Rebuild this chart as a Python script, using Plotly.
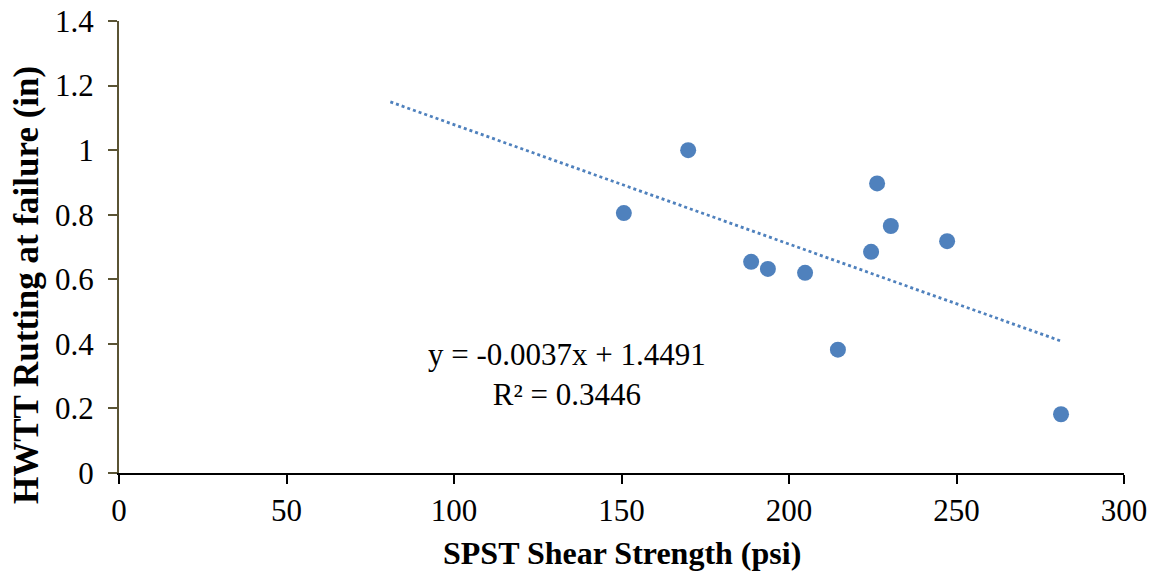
import numpy as np
import plotly.graph_objects as go

# Data
spst_shear_psi = [150.7, 169.9, 188.7, 193.7, 204.8, 214.6, 224.5, 226.3, 230.4, 247.2, 281.2]
hwtt_rut_in = [0.805, 1.000, 0.654, 0.632, 0.620, 0.382, 0.685, 0.897, 0.765, 0.718, 0.182]

trend_slope = -0.0037
trend_intercept = 1.4491
trend_r2 = 0.3446
trend_x_range = [81.0, 281.2]

x_ticks = [0, 50, 100, 150, 200, 250, 300]
y_ticks = [0, 0.2, 0.4, 0.6, 0.8, 1.0, 1.2, 1.4]
y_tick_labels = ["0", "0.2", "0.4", "0.6", "0.8", "1", "1.2", "1.4"]

x_title = "SPST Shear Strength (psi)"
y_title = "HWTT Rutting at failure (in)"

blue = "#4F81BD"
font_family = "Liberation Serif, Times New Roman, serif"

tx = np.linspace(trend_x_range[0], trend_x_range[1], 50)
ty = trend_slope * tx + trend_intercept

fig = go.Figure()
fig.add_trace(go.Scatter(
    x=tx, y=ty, mode="lines",
    line=dict(color=blue, width=2.8, dash="dot"),
    hoverinfo="skip", showlegend=False,
))
fig.add_trace(go.Scatter(
    x=spst_shear_psi, y=hwtt_rut_in, mode="markers",
    marker=dict(color=blue, size=16, line=dict(width=0)),
    showlegend=False,
))

fig.add_annotation(
    x=133.7, y=0.305, xref="x", yref="y",
    text=f"y = {trend_slope}x + {trend_intercept}<br>R² = {trend_r2}",
    showarrow=False, align="center",
    font=dict(family=font_family, size=31, color="black"),
)
fig.add_annotation(
    x=0.5, y=-0.177, xref="paper", yref="paper",
    text=f"<b>{x_title}</b>", showarrow=False,
    xanchor="center", yanchor="middle",
    font=dict(family=font_family, size=32, color="black"),
)
fig.add_annotation(
    x=-0.0915, y=0.416, xref="paper", yref="paper",
    text=f"<b>{y_title}</b>", showarrow=False, textangle=-90,
    xanchor="center", yanchor="middle",
    font=dict(family=font_family, size=35, color="black"),
)

fig.update_layout(
    width=1152, height=575,
    margin=dict(l=119, r=28, t=21, b=102),
    paper_bgcolor="white", plot_bgcolor="white",
    font=dict(family=font_family, color="black"),
    xaxis=dict(
        range=[0, 300], tickvals=x_ticks,
        showgrid=False, zeroline=False, automargin=False,
        showline=True, linecolor="black", linewidth=2,
        ticks="outside", ticklen=9, tickwidth=2, tickcolor="black",
        tickfont=dict(family=font_family, size=31, color="black"),
    ),
    yaxis=dict(
        range=[0, 1.4], tickvals=y_ticks, ticktext=y_tick_labels,
        showgrid=False, zeroline=False, automargin=False,
        showline=True, linecolor="#5A5434", linewidth=2,
        ticks="outside", ticklen=9, tickwidth=2, tickcolor="#5A5434",
        ticklabelstandoff=8,
        tickfont=dict(family=font_family, size=31, color="black"),
    ),
)

fig.write_html("out.html")
